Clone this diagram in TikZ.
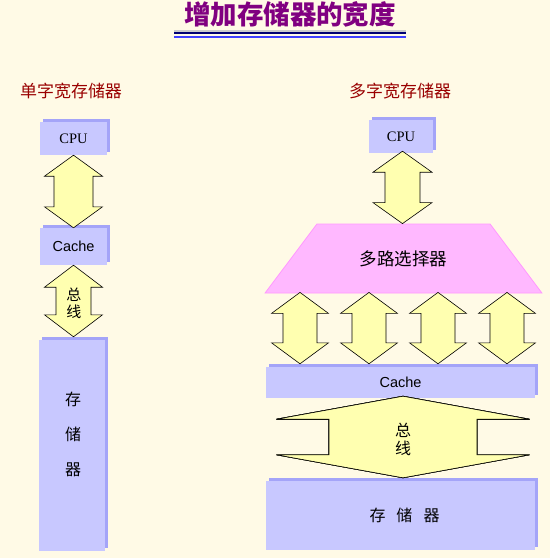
\documentclass[tikz,border=0pt]{standalone}
\usepackage{fontspec}
\usepackage{tikz}
\usetikzlibrary{calc,shapes.geometric,shadows}
\setmainfont{Liberation Sans}
\newfontfamily\cjk{Noto Sans CJK SC}
\newfontfamily\latinserif{Liberation Serif}

\definecolor{paper}{HTML}{FFFAE6}
\definecolor{boxfill}{HTML}{C8C8FF}
\definecolor{boxshade}{HTML}{A4A4F8}
\definecolor{busfill}{HTML}{FFFFB0}
\definecolor{muxfill}{HTML}{FFB8FF}
\definecolor{muxedge}{HTML}{FF99FF}
\definecolor{headred}{HTML}{990000}
\definecolor{titlepurple}{HTML}{800080}

\tikzset{
  membox/.style={fill=boxfill, inner sep=0pt,
    general shadow={fill=boxshade, shadow xshift=3pt, shadow yshift=3pt}},
  busarrow/.style={fill=busfill, draw=black, line width=0.6pt, line join=miter},
  heading/.style={text=headred, font=\cjk\fontsize{17pt}{19pt}\selectfont},
  cjktext/.style={font=\cjk\fontsize{16pt}{18pt}\selectfont}
}

% block double arrow: from, to, head half width, shaft half width, head length
\newcommand{\dblarrow}[5]{%
  \filldraw[busarrow] let \p1=(#1), \p2=(#2) in
    (\x1,\y1) -- (\x1+#3pt,\y1-#5pt) -- (\x1+#4pt,\y1-#5pt) -- (\x1+#4pt,\y2+#5pt)
    -- (\x1+#3pt,\y2+#5pt) -- (\x1,\y2) -- (\x1-#3pt,\y2+#5pt) -- (\x1-#4pt,\y2+#5pt)
    -- (\x1-#4pt,\y1-#5pt) -- (\x1-#3pt,\y1-#5pt) -- cycle;}

\begin{document}
\begin{tikzpicture}[x=1pt,y=-1pt]
  \fill[paper] (0,0) rectangle (550,558);
  \useasboundingbox (0,0) rectangle (550,558);

  % title with double underline
  \node[text=titlepurple, font=\cjk\bfseries\fontsize{26.5pt}{28pt}\selectfont] (title) at (290,14) {增加存储器的宽度};
  \draw[gray!40, line width=1.5pt] (174,31) -- (406,31);
  \draw[blue!45!black, line width=1.5pt] (174,33) -- (406,33);
  \draw[blue!75, line width=2pt] (174,37) -- (406,37);

  % single word width
  \node[heading] (headL) at (71,91) {单字宽存储器};
  \node[membox, minimum width=67pt, minimum height=33pt, font=\latinserif\fontsize{14.5pt}{16pt}\selectfont] (cpuL) at (73.5,138.5) {CPU};
  \node[membox, minimum width=67pt, minimum height=37pt, font=\fontsize{14.5pt}{16pt}\selectfont] (cacheL) at (73.5,246.5) {Cache};
  \node[membox, minimum width=66pt, minimum height=211pt] (memL) at (72,445.5) {};
  \node[cjktext, align=center, font=\cjk\fontsize{16pt}{35pt}\selectfont] (memLtext) at (73,434) {存\\储\\器};

  \dblarrow{cpuL.south}{cacheL.north}{29}{19.5}{21}
  \dblarrow{cacheL.south}{$(memL.north)+(0,-3)$}{29}{17.5}{22}
  \node[align=center, font=\cjk\fontsize{15pt}{17pt}\selectfont] (busL) at (74,303.5) {总\\线};

  % multi word width
  \node[heading] (headR) at (400,91) {多字宽存储器};
  \node[membox, minimum width=64pt, minimum height=33pt, font=\latinserif\fontsize{14.5pt}{16pt}\selectfont] (cpuR) at (401,136.5) {CPU};
  \node[trapezium, trapezium stretches=true, trapezium left angle=39, trapezium right angle=39,
        minimum width=277pt, minimum height=69pt, fill=muxfill, draw=muxedge, line width=0.8pt,
        font=\cjk\fontsize{17.5pt}{19pt}\selectfont] (mux) at (403.5,258.5) {多路选择器\hspace{10pt}};
  \node[membox, minimum width=269pt, minimum height=31pt, font=\fontsize{14.5pt}{16pt}\selectfont] (cacheR) at (400.5,382.5) {Cache};
  \node[membox, minimum width=269pt, minimum height=69pt, cjktext] (memR) at (400.5,515.5) {\hspace{8pt}存\hspace{11pt}储\hspace{11pt}器};

  \dblarrow{$(cpuR.south)+(1.5,-2)$}{mux.north}{29.5}{17.5}{21}
  \foreach \dx in {-103.5,-34.5,34.5,103.5}
    \dblarrow{$(mux.south)+(\dx,-1)$}{$(cacheR.north)+(0,-3)$}{28.5}{17}{21}
  \dblarrow{$(cacheR.south)+(2.5,-2)$}{$(memR.north)+(0,-3)$}{126.5}{74}{23}
  \node[align=center, font=\cjk\fontsize{16pt}{18pt}\selectfont] (busR) at (403,439) {总\\线};
\end{tikzpicture}
\end{document}
